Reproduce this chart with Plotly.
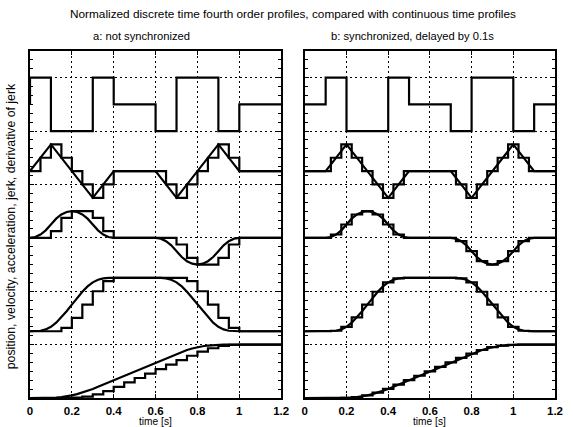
import plotly.graph_objects as go

# ---------------- data (normalized profiles) ----------------
# continuous-time grid (s)
T_CONT = [0, 0.025, 0.05, 0.075, 0.1, 0.125, 0.15, 0.175, 0.2, 0.225, 0.25, 0.275,
          0.3, 0.325, 0.35, 0.375, 0.4, 0.425, 0.45, 0.475, 0.5, 0.525, 0.55, 0.575,
          0.6, 0.625, 0.65, 0.675, 0.7, 0.725, 0.75, 0.775, 0.8, 0.825, 0.85, 0.875,
          0.9, 0.925, 0.95, 0.975, 1.0, 1.025, 1.05, 1.075, 1.1, 1.125, 1.15, 1.175, 1.2]

ACC_CONT = [0, 0.031, 0.125, 0.281, 0.5, 0.719, 0.875, 0.969, 1, 0.969, 0.875, 0.719,
            0.5, 0.281, 0.125, 0.031, 0, 0, 0, 0, 0, 0, 0, 0,
            0, -0.031, -0.125, -0.281, -0.5, -0.719, -0.875, -0.969, -1, -0.969, -0.875, -0.719,
            -0.5, -0.281, -0.125, -0.031, 0, 0, 0, 0, 0, 0, 0, 0, 0]

VEL_CONT = [0, 0.001, 0.010, 0.035, 0.083, 0.160, 0.260, 0.376, 0.5, 0.624, 0.740, 0.840,
            0.917, 0.965, 0.990, 0.999, 1, 1, 1, 1, 1, 1, 1, 1,
            1, 0.999, 0.990, 0.965, 0.917, 0.840, 0.740, 0.624, 0.5, 0.376, 0.260, 0.160,
            0.083, 0.035, 0.010, 0.001, 0, 0, 0, 0, 0, 0, 0, 0, 0]

POS_CONT = [0, 0, 0.0002, 0.0011, 0.0035, 0.0085, 0.0172, 0.0304, 0.0486, 0.0720, 0.1005, 0.1335,
            0.1701, 0.2094, 0.2502, 0.2917, 0.3333, 0.375, 0.4167, 0.4583, 0.5, 0.5417, 0.5833, 0.625,
            0.6667, 0.7083, 0.7498, 0.7906, 0.8299, 0.8666, 0.8995, 0.9280, 0.9514, 0.9696, 0.9828, 0.9916,
            0.9965, 0.9989, 0.9998, 1.0, 1, 1, 1, 1, 1, 1, 1, 1, 1]

# jerk (piecewise linear) breakpoints
T_JERK = [0, 0.1, 0.3, 0.4, 0.6, 0.7, 0.9, 1.0, 1.2]
JERK_CONT = [0, 1, -1, 0, 0, -1, 1, 0, 0]

# derivative of jerk (piecewise constant), switching instants
T_SNAP = [0, 0.1, 0.3, 0.4, 0.6, 0.7, 0.9, 1.0]
SNAP = [1, -1, 1, 0, -1, 1, -1, 0]

# discrete-time sample instants, sample time 0.05 s
T_DISC = [0, 0.05, 0.1, 0.15, 0.2, 0.25, 0.3, 0.35, 0.4, 0.45, 0.5, 0.55,
          0.6, 0.65, 0.7, 0.75, 0.8, 0.85, 0.9, 0.95, 1.0, 1.05, 1.1, 1.15, 1.2]

# a: not synchronized (value held after each sample)
JERK_A = [0, 0.5, 1, 0.5, 0, -0.5, -1, -0.5, 0, 0, 0, 0, 0, -0.5, -1, -0.5, 0, 0.5, 1, 0.5, 0, 0, 0, 0, 0]
ACC_A = [0, 0, 0.25, 0.75, 1, 1, 0.75, 0.25, 0, 0, 0, 0, 0, 0, -0.25, -0.75, -1, -1, -0.75, -0.25, 0, 0, 0, 0, 0]
VEL_A = [0, 0, 0, 0.0625, 0.25, 0.5, 0.75, 0.9375, 1, 1, 1, 1, 1, 1, 1, 0.9375, 0.75, 0.5, 0.25, 0.0625, 0, 0, 0, 0, 0]
POS_A = [0, 0, 0, 0, 0.0052, 0.026, 0.0677, 0.1302, 0.2083, 0.2917, 0.375, 0.4583,
         0.5417, 0.625, 0.7083, 0.7917, 0.8698, 0.9323, 0.974, 0.9948, 1, 1, 1, 1, 1]

# b: synchronized, delayed by 0.1 s (steps centred on each sample)
DELAY_B = 0.1
JERK_B = [0, 0, 0, 0.5, 1, 0.5, 0, -0.5, -1, -0.5, 0, 0, 0, 0, 0, -0.5, -1, -0.5, 0, 0.5, 1, 0.5, 0, 0, 0]
ACC_B = [0, 0, 0, 0.125, 0.5, 0.875, 1, 0.875, 0.5, 0.125, 0, 0, 0, 0, 0,
         -0.125, -0.5, -0.875, -1, -0.875, -0.5, -0.125, 0, 0, 0]
VEL_B = [0, 0, 0, 0.010, 0.083, 0.260, 0.5, 0.740, 0.917, 0.990, 1, 1, 1, 1, 1,
         0.990, 0.917, 0.740, 0.5, 0.260, 0.083, 0.010, 0, 0, 0]
POS_B = [0, 0, 0, 0.0002, 0.0035, 0.0172, 0.0486, 0.1005, 0.1701, 0.2502, 0.3333, 0.4167, 0.5,
         0.5833, 0.6667, 0.7498, 0.8299, 0.8995, 0.9514, 0.9828, 0.9965, 0.9998, 1, 1, 1]

X_TICKS = [0, 0.2, 0.4, 0.6, 0.8, 1.0, 1.2]
X_TICK_TEXT = ["0", "0.2", "0.4", "0.6", "0.8", "1", "1.2"]

# vertical placement of each profile in the stacked plot (offset, scale)
BAND = {"pos": (0.0, 1.0), "vel": (1.25, 1.0), "acc": (3.0, 0.5), "jerk": (4.25, 0.5), "snap": (5.5, 0.5)}

# ---------------- figure ----------------
fig = go.Figure()
LW = 2.2


def add(x, y, key, panel, shape="linear"):
    off, sc = BAND[key]
    fig.add_trace(go.Scatter(
        x=x, y=[off + sc * v for v in y], mode="lines",
        line=dict(color="black", width=LW, shape=shape),
        xaxis="x" if panel == 0 else "x2", yaxis="y" if panel == 0 else "y2",
        showlegend=False, hoverinfo="skip"))


for panel, delay in ((0, 0.0), (1, DELAY_B)):
    xc = [0.0] + [t + delay for t in T_CONT]
    add(xc, [ACC_CONT[0]] + ACC_CONT, "acc", panel)
    add(xc, [VEL_CONT[0]] + VEL_CONT, "vel", panel)
    add(xc, [POS_CONT[0]] + POS_CONT, "pos", panel)
    add([0.0] + [t + delay for t in T_JERK], [0] + JERK_CONT, "jerk", panel)
    xs = [0.0] + [t + delay for t in T_SNAP] + [1.3]
    add(xs, [0] + SNAP + [SNAP[-1]], "snap", panel, shape="hv")

# a: zero-order hold staircase (value held after each sample)
for key, vals in (("jerk", JERK_A), ("acc", ACC_A), ("vel", VEL_A), ("pos", POS_A)):
    add(T_DISC, vals, key, 0, shape="hv")
# b: staircase centred on each sample
for key, vals in (("jerk", JERK_B), ("acc", ACC_B), ("vel", VEL_B), ("pos", POS_B)):
    add(T_DISC, vals, key, 1, shape="hvh")

FONT = "Liberation Sans, Arial, sans-serif"
L, R, TOP, BOT = 30, 10, 51, 29
W, H = 573, 427
pw = W - L - R
x_left_end = (285 - L) / pw
x_right_start = (309 - L) / pw

xcommon = dict(range=[0, 1.2], tickvals=X_TICKS, ticktext=X_TICK_TEXT,
               showgrid=True, gridcolor="black", griddash="2px,3px", gridwidth=1,
               showline=True, linecolor="black", linewidth=2, mirror="ticks",
               ticks="inside", ticklen=4, tickcolor="black", zeroline=False,
               ticklabelstandoff=1,
               tickfont=dict(family=FONT, size=11.5, color="black", weight="bold"))
ycommon = dict(range=[0, 6.5], tickvals=[0, 1, 2, 3, 4, 5, 6], showticklabels=False,
               showgrid=True, gridcolor="black", griddash="2px,3px", gridwidth=1,
               showline=True, linecolor="black", linewidth=2, mirror="ticks",
               ticks="inside", ticklen=4, tickcolor="black", zeroline=False,
               minor=dict(tick0=0, dtick=1 / 6, ticks="inside", ticklen=3, tickcolor="black", showgrid=False))

fig.update_layout(
    width=W, height=H, margin=dict(l=L, r=R, t=TOP, b=BOT),
    paper_bgcolor="white", plot_bgcolor="white",
    xaxis=dict(domain=[0, x_left_end], anchor="y", **xcommon),
    yaxis=dict(domain=[0, 1], anchor="x", **ycommon),
    xaxis2=dict(domain=[x_right_start, 1], anchor="y2", **xcommon),
    yaxis2=dict(domain=[0, 1], anchor="x2", **ycommon),
    font=dict(family=FONT, color="black"),
)

ph = H - TOP - BOT


def px2paper(xp, yp):
    return (xp - L) / pw, (H - BOT - yp) / ph


annots = [
    ("Normalized discrete time fourth order profiles, compared with continuous time profiles", 297, 14, 11.8, 0),
    ("a: not synchronized", 143, 36, 11.2, 0),
    ("b: synchronized, delayed by 0.1s", 418, 36, 11.2, 0),
    ("time [s]", 157, 421.5, 10.2, 0),
    ("time [s]", 436, 421.5, 10.2, 0),
    ("position, velocity, acceleration, jerk, derivative of jerk", 11, 226, 12.3, -90),
]
for text, xp, yp, size, ang in annots:
    ax, ay = px2paper(xp, yp)
    fig.add_annotation(text=text, x=ax, y=ay, xref="paper", yref="paper",
                       xanchor="center", yanchor="middle", showarrow=False,
                       textangle=ang, font=dict(family=FONT, size=size, color="black"))

fig.write_html("out.html")
